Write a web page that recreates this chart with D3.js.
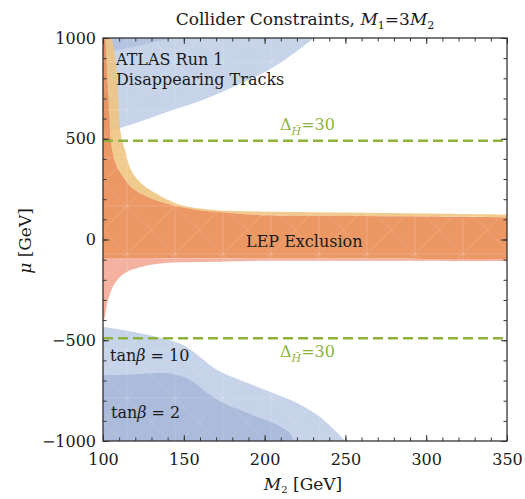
<!DOCTYPE html>
<html>
<head>
<meta charset="utf-8">
<script src="https://cdn.jsdelivr.net/npm/d3@7"></script>
<style>
  body { margin: 0; background: #fff; }
  text { font-family: "DejaVu Serif", serif; fill: #1a1a1a; }
</style>
</head>
<body>
<svg id="chart" width="525" height="499"></svg>
<script>
(function() {

// Boundaries, as [M2, mu] pairs in GeV
var atlasEdge = [[100,530],[104,538],[118.6,573],[139.6,633],[160,687],[180.5,757],[201.5,836],[217.6,920],[230.5,1000]];
var atlasDarkEdge = [[100,925],[118,955],[135,985],[145,1000]];
var tb10Edge = [[100,-434],[112.4,-449],[133.4,-484],[149.5,-524],[160,-583],[170.6,-648],[184.8,-697],[205.2,-762],[220,-811],[234.3,-881],[250,-1000]];
var tb2Edge = [[100,-673],[112.4,-673],[122.9,-668],[133.4,-663],[143.3,-668],[153.9,-697],[164.4,-762],[174.3,-811],[184.8,-846],[195.3,-881],[205.2,-911],[215.7,-961],[218,-1000]];
var lepYellowTop = [[105.6,1000],[108,876],[109.3,707],[111,524],[113.6,444],[117.3,345],[123.5,280],[132.2,231],[148.3,171],[169.3,146],[195.9,139],[250.4,134],[300.5,129],[350,124]];
var lepTop = [[101.5,1000],[103.1,742],[104.6,524],[106.2,424],[108.7,360],[113,305],[117.3,261],[127.8,211],[138.4,181],[158.8,146],[179.2,132],[195.9,122],[250,118],[300,114],[350,110]];
var lepBottom = [[100,-92],[200,-94],[350,-97]];
var lepPinkBottom = [[100,-410],[101,-390],[103.1,-300],[107.4,-216],[113.6,-166],[123.5,-136],[138.4,-117],[158.8,-112],[196,-106],[250,-106],[350,-109]];
var tuningLines = [490, -490];
var tuningLabel = "30";

var xTicks = [100, 150, 200, 250, 300, 350];
var yTicks = [-1000, -500, 0, 500, 1000];

var left = 103, right = 507, top = 38, bottom = 441;

var svg = d3.select("#chart");

var x = d3.scaleLinear().domain([100, 350]).range([left, right]);
var y = d3.scaleLinear().domain([-1000, 1000]).range([bottom, top]);

var defs = svg.append("defs");
defs.append("clipPath").attr("id", "plotClip")
  .append("rect").attr("x", left).attr("y", top)
  .attr("width", right - left).attr("height", bottom - top);

// faint triangulation mesh, like the polygon rendering in the original
var mesh = defs.append("pattern").attr("id", "mesh")
  .attr("patternUnits", "userSpaceOnUse")
  .attr("width", 48).attr("height", 48)
  .attr("x", left).attr("y", top);
mesh.append("path")
  .attr("d", "M0,0L48,48M48,0L0,48M24,0L24,48M0,24L48,24")
  .attr("stroke", "#fff").attr("stroke-width", 0.7)
  .attr("stroke-opacity", 0.22).attr("fill", "none");

var line = d3.line()
  .x(function(d) { return x(d[0]); })
  .y(function(d) { return y(d[1]); })
  .curve(d3.curveCatmullRom.alpha(0.5));

var straight = d3.line()
  .x(function(d) { return x(d[0]); })
  .y(function(d) { return y(d[1]); });

// continue a path with straight segments to the given points
function to(points) {
  return points.map(function(p) { return "L" + x(p[0]) + "," + y(p[1]); }).join("");
}

// boundary curve closed off along the frame corners
function region(edge, corners) {
  return line(edge) + to(corners) + "Z";
}

// region between two curves (second one walked backwards)
function band(upper, lower) {
  var back = lower.slice().reverse();
  return line(upper) + to([back[0]]) + line(back).replace("M", "L") + "Z";
}

var g = svg.append("g").attr("clip-path", "url(#plotClip)");

function drawShape(d, fill, opacity) {
  g.append("path").attr("d", d).attr("fill", fill).attr("fill-opacity", opacity);
  g.append("path").attr("d", d).attr("fill", "url(#mesh)");
}

// ATLAS disappearing tracks and the lower tan(beta) regions
drawShape(region(atlasEdge, [[100, 1000]]), "#c6d3e9", 1);
drawShape(region(atlasDarkEdge, [[100, 1000]]), "#b3c3e0", 1);
drawShape(region(tb10Edge, [[100, -1000]]), "#c6d3e9", 1);
drawShape(region(tb2Edge, [[100, -1000]]), "#aabbdb", 1);

// LEP exclusion
drawShape(band(lepYellowTop, lepTop), "#efc47e", 0.88);
var lowBack = lepBottom.slice().reverse();
var orangeShape = line(lepTop) + to([lowBack[0]]) + line(lowBack).replace("M", "L") +
  to([[100, 1000]]) + "Z";
drawShape(orangeShape, "#ea8f58", 0.92);
drawShape(band(lepBottom, lepPinkBottom), "#f3a896", 0.9);

// tuning lines
tuningLines.forEach(function(v) {
  g.append("line")
    .attr("x1", left).attr("x2", right)
    .attr("y1", y(v)).attr("y2", y(v))
    .attr("stroke", "#8db33a").attr("stroke-width", 2.6)
    .attr("stroke-dasharray", "10,5");
});

function tuningText(yPos) {
  var t = svg.append("text").attr("x", 280).attr("y", yPos)
    .style("font-size", "16px");
  t.append("tspan").text("\u0394").style("fill", "#8db33a");
  t.append("tspan").text("H\u0303").attr("dy", 5).style("font-size", "11px")
    .style("font-style", "italic").style("fill", "#8db33a");
  t.append("tspan").text("=" + tuningLabel).attr("dy", -5).style("fill", "#8db33a");
}
tuningText(130);
tuningText(357);

// frame and ticks
function axisStyle(sel) {
  sel.select(".domain").remove();
  sel.selectAll("line").attr("stroke", "#333").attr("stroke-width", 1);
  sel.selectAll("text").style("font-size", "16px").style("font-family", "DejaVu Serif, serif").attr("fill", "#1a1a1a");
}

var fmt = d3.format("d");
svg.append("g").attr("transform", "translate(0," + bottom + ")")
  .call(d3.axisBottom(x).tickValues(xTicks).tickSize(-6).tickPadding(13).tickFormat(fmt)).call(axisStyle);
svg.append("g").attr("transform", "translate(0," + bottom + ")")
  .call(d3.axisBottom(x).ticks(25).tickSize(-3.5).tickFormat("")).call(axisStyle);
svg.append("g").attr("transform", "translate(0," + top + ")")
  .call(d3.axisTop(x).tickValues(xTicks).tickSize(-6).tickFormat("")).call(axisStyle);
svg.append("g").attr("transform", "translate(0," + top + ")")
  .call(d3.axisTop(x).ticks(25).tickSize(-3.5).tickFormat("")).call(axisStyle);

svg.append("g").attr("transform", "translate(" + left + ",0)")
  .call(d3.axisLeft(y).tickValues(yTicks).tickSize(-6).tickPadding(7).tickFormat(fmt)).call(axisStyle);
svg.append("g").attr("transform", "translate(" + left + ",0)")
  .call(d3.axisLeft(y).ticks(20).tickSize(-3.5).tickFormat("")).call(axisStyle);
svg.append("g").attr("transform", "translate(" + right + ",0)")
  .call(d3.axisRight(y).tickValues(yTicks).tickSize(-6).tickFormat("")).call(axisStyle);
svg.append("g").attr("transform", "translate(" + right + ",0)")
  .call(d3.axisRight(y).ticks(20).tickSize(-3.5).tickFormat("")).call(axisStyle);

svg.append("rect")
  .attr("x", left).attr("y", top)
  .attr("width", right - left).attr("height", bottom - top)
  .attr("fill", "none").attr("stroke", "#333").attr("stroke-width", 1.3);

// labels
var title = svg.append("text").attr("x", 305).attr("y", 25)
  .attr("text-anchor", "middle").style("font-size", "17px");
title.append("tspan").text("Collider Constraints, ");
title.append("tspan").text("M").style("font-style", "italic");
title.append("tspan").text("1").attr("dy", 4).style("font-size", "11px");
title.append("tspan").text("=3").attr("dy", -4);
title.append("tspan").text("M").style("font-style", "italic");
title.append("tspan").text("2").attr("dy", 4).style("font-size", "11px");

svg.append("text").attr("x", 116).attr("y", 65).style("font-size", "16px").text("ATLAS Run 1");
svg.append("text").attr("x", 116).attr("y", 85).style("font-size", "16px").text("Disappearing Tracks");
svg.append("text").attr("x", 246).attr("y", 247).style("font-size", "16px").text("LEP Exclusion");

function tanText(xPos, yPos, val) {
  var t = svg.append("text").attr("x", xPos).attr("y", yPos).style("font-size", "16px");
  t.append("tspan").text("tan");
  t.append("tspan").text("\u03b2").style("font-style", "italic");
  t.append("tspan").text(" = " + val);
}
tanText(110, 361, "10");
tanText(111, 418, "2");

var xTitle = svg.append("text").attr("x", 303).attr("y", 490)
  .attr("text-anchor", "middle").style("font-size", "17px");
xTitle.append("tspan").text("M").style("font-style", "italic");
xTitle.append("tspan").text("2").attr("dy", 3).style("font-size", "10px");
xTitle.append("tspan").text(" [GeV]").attr("dy", -3);

var yTitle = svg.append("text")
  .attr("transform", "translate(31,241) rotate(-90)")
  .attr("text-anchor", "middle").style("font-size", "17px");
yTitle.append("tspan").text("\u03bc").style("font-style", "italic");
yTitle.append("tspan").text(" [GeV]");

})();
</script>
</body>
</html>
